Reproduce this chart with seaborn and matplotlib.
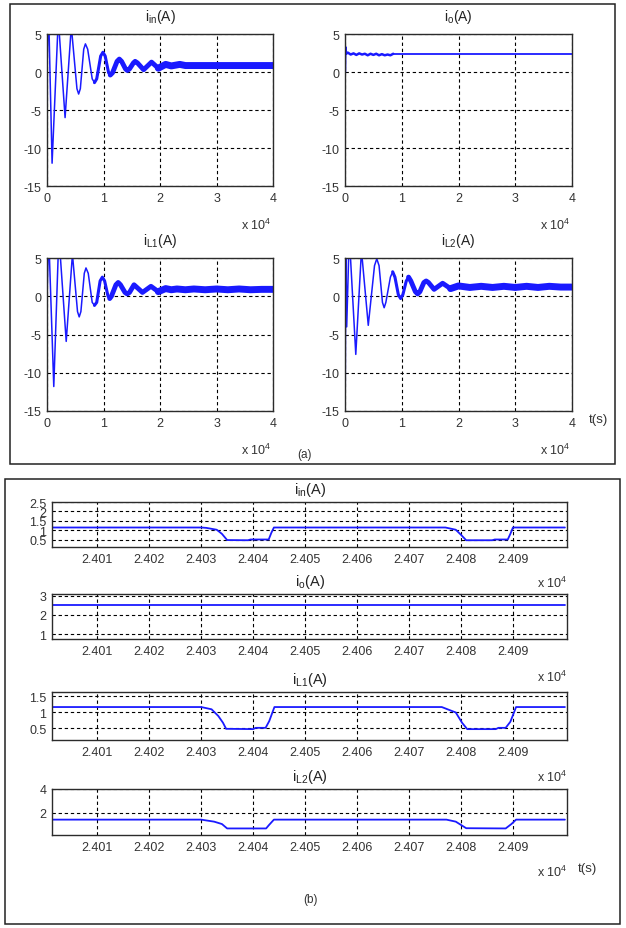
import numpy as np
import seaborn as sns
import matplotlib
matplotlib.use('Agg')
from matplotlib import pyplot as plt
from matplotlib.patches import Rectangle

sns.set_style('white')
plt.rcParams['font.family'] = ['Liberation Sans', 'DejaVu Sans']
plt.rcParams['mathtext.fontset'] = 'custom'
plt.rcParams['mathtext.rm'] = 'Liberation Sans'
plt.rcParams['mathtext.it'] = 'Liberation Sans:italic'
plt.rcParams['axes.unicode_minus'] = False

# ---- (a) start-up transients, time in units of 1e4 ----
t_in_a = np.array([0.0, 0.025, 0.09, 0.20, 0.32, 0.43, 0.53, 0.56, 0.59, 0.65, 0.68, 0.72,
                   0.80, 0.84, 0.88, 0.95, 0.99, 1.03, 1.09, 1.12, 1.16, 1.24, 1.28, 1.32,
                   1.39, 1.42, 1.46, 1.53, 1.56, 1.60, 1.71, 1.85, 1.97, 2.1, 2.2, 2.35,
                   2.45, 2.7, 3.0, 3.3, 3.6, 4.0])
i_in_a = np.array([0.0, 9.0, -12.0, 7.0, -6.0, 6.0, -2.2, -2.9, -2.2, 3.0, 3.7, 3.0,
                   -0.9, -1.4, -0.9, 2.1, 2.6, 2.1, -0.1, -0.4, -0.1, 1.4, 1.7, 1.4,
                   0.4, 0.2, 0.4, 1.2, 1.4, 1.2, 0.3, 1.3, 0.5, 1.0, 0.8, 1.0,
                   0.85, 0.85, 0.85, 0.85, 0.85, 0.85])

t_o_a = np.array([0.0, 0.005, 0.02, 0.05, 0.1, 0.15, 0.2, 0.25, 0.3, 0.35, 0.4, 0.45,
                  0.5, 0.55, 0.6, 0.65, 0.7, 0.75, 0.8, 0.85, 4.0])
i_o_a = np.array([0.0, 3.3, 2.4, 2.55, 2.3, 2.45, 2.25, 2.45, 2.3, 2.4, 2.2, 2.4,
                  2.25, 2.4, 2.2, 2.35, 2.2, 2.3, 2.2, 2.4, 2.4])

t_l1_a = np.array([0.0, 0.03, 0.12, 0.21, 0.34, 0.45, 0.54, 0.57, 0.60, 0.66, 0.69, 0.73,
                   0.80, 0.84, 0.88, 0.94, 0.98, 1.02, 1.08, 1.11, 1.14, 1.22, 1.26, 1.30,
                   1.38, 1.42, 1.46, 1.54, 1.69, 1.84, 1.97, 2.1, 2.2, 2.3, 2.45, 2.6,
                   2.8, 3.0, 3.2, 3.4, 3.6, 3.8, 4.0])
i_l1_a = np.array([0.0, 8.0, -11.8, 8.0, -5.9, 5.5, -2.0, -2.7, -2.0, 3.0, 3.7, 3.0,
                   -0.8, -1.2, -0.8, 2.0, 2.5, 2.0, 0.0, -0.3, 0.0, 1.5, 1.8, 1.5,
                   0.5, 0.3, 0.5, 1.5, 0.5, 1.3, 0.6, 1.0, 0.85, 0.95, 0.85, 0.95,
                   0.85, 0.95, 0.85, 0.95, 0.85, 0.9, 0.9])

t_l2_a = np.array([0.0, 0.015, 0.03, 0.075, 0.19, 0.29, 0.41, 0.52, 0.56, 0.60, 0.66, 0.69,
                   0.72, 0.80, 0.84, 0.88, 0.94, 0.98, 1.02, 1.08, 1.12, 1.16, 1.24, 1.28,
                   1.32, 1.39, 1.43, 1.47, 1.57, 1.72, 1.86, 2.0, 2.2, 2.4, 2.6, 2.8,
                   3.0, 3.2, 3.4, 3.6, 3.8, 4.0])
i_l2_a = np.array([-20.0, 7.0, -4.0, 8.0, -7.6, 6.0, -3.8, 4.0, 4.9, 4.0, -0.8, -1.5,
                   -0.8, 2.5, 3.2, 2.5, 0.2, -0.3, 0.2, 2.0, 2.5, 2.0, 0.6, 0.3,
                   0.6, 1.8, 2.0, 1.8, 0.9, 1.7, 1.0, 1.35, 1.15, 1.3, 1.15, 1.3,
                   1.15, 1.3, 1.15, 1.3, 1.2, 1.2])

# ---- (b) steady-state zoom, time in units of 1e4 ----
t_in_b = np.array([2.4001, 2.4030, 2.4031, 2.4033, 2.4034, 2.4035, 2.4039, 2.40395, 2.4043,
                   2.40435, 2.4044, 2.4077, 2.4079, 2.4080, 2.4081, 2.4086, 2.40865, 2.4089,
                   2.40895, 2.4090, 2.4100])
i_in_b = np.array([1.14, 1.14, 1.12, 1.02, 0.80, 0.47, 0.46, 0.50, 0.50,
                   0.85, 1.14, 1.14, 1.02, 0.75, 0.46, 0.46, 0.50, 0.50,
                   0.80, 1.14, 1.14])

t_o_b = np.array([2.4001, 2.4100])
i_o_b = np.array([2.5, 2.5])

t_l1_b = np.array([2.4001, 2.4030, 2.4032, 2.40333, 2.40342, 2.40348, 2.4040, 2.40405, 2.40424,
                   2.40431, 2.40441, 2.40763, 2.4079, 2.40802, 2.40812, 2.40867, 2.40872,
                   2.40886, 2.40895, 2.40906, 2.4100])
i_l1_b = np.array([1.16, 1.16, 1.09, 0.88, 0.67, 0.48, 0.47, 0.51, 0.51,
                   0.72, 1.16, 1.16, 0.99, 0.67, 0.47, 0.47, 0.51,
                   0.51, 0.70, 1.16, 1.16])

t_l2_b = np.array([2.4001, 2.4030, 2.40325, 2.4034, 2.4035, 2.40425, 2.4043, 2.4044,
                   2.40772, 2.4079, 2.4081, 2.40886, 2.40897, 2.40906, 2.4100])
i_l2_b = np.array([1.43, 1.43, 1.26, 1.06, 0.69, 0.69, 0.95, 1.43,
                   1.43, 1.26, 0.71, 0.69, 1.06, 1.43, 1.43])

ticks_a_x = [0, 1, 2, 3, 4]
ticks_a_y = [-15, -10, -5, 0, 5]
ticks_b_x = [2.401, 2.402, 2.403, 2.404, 2.405, 2.406, 2.407, 2.408, 2.409]

BLUE = '#1a1aff'
W, H = 626, 929


def px_axes(fig, x0, y0, x1, y1):
    return fig.add_axes([x0 / W, 1 - y1 / H, (x1 - x0) / W, (y1 - y0) / H])


def px_text(fig, x, y, s, **kw):
    kw.setdefault('ha', 'center')
    kw.setdefault('va', 'center')
    fig.text(x / W, 1 - y / H, s, **kw)


def px_box(fig, x0, y0, x1, y1):
    fig.patches.append(Rectangle((x0 / W, 1 - y1 / H), (x1 - x0) / W, (y1 - y0) / H,
                                 transform=fig.transFigure, fill=False,
                                 edgecolor='#222222', linewidth=1.1))


def style_axes(ax, labelsize=9):
    ax.tick_params(direction='in', length=3, width=0.8, labelsize=labelsize,
                   labelcolor='#333333', color='#333333', pad=4)
    for s in ax.spines.values():
        s.set_color('#2b2b2b')
        s.set_linewidth(1.0)
    ax.grid(True, color='black', linestyle=(0, (3, 2.5)), linewidth=0.8)


# Draw one series in pieces so the ripple band can be thicker than the transient.
def draw(ax, t, v, segments):
    for t0, t1, lw in segments:
        i0 = np.searchsorted(t, t0)
        i1 = np.searchsorted(t, t1, side='right')
        sns.lineplot(x=t[i0:i1], y=v[i0:i1], ax=ax, color=BLUE, linewidth=lw,
                     estimator=None, sort=False, solid_joinstyle='round')


fig = plt.figure(figsize=(W / 100, H / 100), dpi=100)

# ---- panel (a) ----
panels_a = [
    ((47, 35, 273, 187), r'i$_{\rm in}$(A)', t_in_a, i_in_a,
     [(0, 4, 1.1), (0.84, 4, 2.2), (1.12, 4, 3.5), (1.97, 4, 5.0)]),
    ((345, 35, 572, 187), r'i$_{\rm o}$(A)', t_o_a, i_o_a,
     [(0, 0.85, 1.8), (0.85, 4, 1.3)]),
    ((47, 259, 273, 412), r'i$_{\rm L1}$(A)', t_l1_a, i_l1_a,
     [(0, 4, 1.1), (0.84, 4, 2.2), (1.11, 4, 3.5), (1.97, 4, 5.0)]),
    ((345, 259, 572, 412), r'i$_{\rm L2}$(A)', t_l2_a, i_l2_a,
     [(0, 4, 1.1), (0.84, 4, 2.2), (1.12, 4, 3.5), (1.86, 4, 5.0)]),
]
for (x0, y0, x1, y1), title, t, v, segs in panels_a:
    ax = px_axes(fig, x0, y0, x1, y1)
    draw(ax, t, v, segs)
    ax.set_xlim(0, 4)
    ax.set_ylim(-15, 5)
    ax.set_xticks(ticks_a_x)
    ax.set_yticks(ticks_a_y)
    style_axes(ax)
    px_text(fig, (x0 + x1) / 2, y0 - 18, title, fontsize=10, color='#222222')
    px_text(fig, x1 - 2, y1 + 38, r'x 10$^{4}$', fontsize=9, color='#333333', ha='right')

px_text(fig, 598, 420, 't(s)', fontsize=9.5, color='#333333')
px_text(fig, 305, 455, '(a)', fontsize=8.5, color='#333333')
px_box(fig, 10, 5, 615, 465)

# ---- panel (b) ----
panels_b = [
    ((52, 503, 567, 548), r'i$_{\rm in}$(A)', t_in_b, i_in_b, (0.1, 2.5),
     [0.5, 1, 1.5, 2, 2.5], ['0.5', '1', '1.5', '2', '2.5'], 583),
    ((52, 595, 567, 640), r'i$_{\rm o}$(A)', t_o_b, i_o_b, (0.75, 3.08),
     [1, 2, 3], ['1', '2', '3'], 677),
    ((52, 693, 567, 741), r'i$_{\rm L1}$(A)', t_l1_b, i_l1_b, (0.13, 1.63),
     [0.5, 1, 1.5], ['0.5', '1', '1.5'], 777),
    ((52, 790, 567, 836), r'i$_{\rm L2}$(A)', t_l2_b, i_l2_b, (0.14, 4.0),
     [2, 4], ['2', '4'], 872),
]
for (x0, y0, x1, y1), title, t, v, ylim, yt, ytl, xlab_y in panels_b:
    ax = px_axes(fig, x0, y0, x1, y1)
    draw(ax, t, v, [(t[0], t[-1], 1.3)])
    ax.set_xlim(2.40013, 2.41004)
    ax.set_ylim(*ylim)
    ax.set_xticks(ticks_b_x, [f'{x:.3f}' for x in ticks_b_x])
    ax.set_yticks(yt, ytl)
    style_axes(ax)
    px_text(fig, 310, y0 - 13, title, fontsize=10.5, color='#222222')
    px_text(fig, x1, xlab_y, r'x 10$^{4}$', fontsize=9, color='#333333', ha='right')

px_text(fig, 587, 869, 't(s)', fontsize=9.5, color='#333333')
px_text(fig, 310, 900, '(b)', fontsize=8.5, color='#333333')
px_box(fig, 5, 480, 620, 925)

fig.savefig('out.png', dpi=100)
plt.close(fig)
